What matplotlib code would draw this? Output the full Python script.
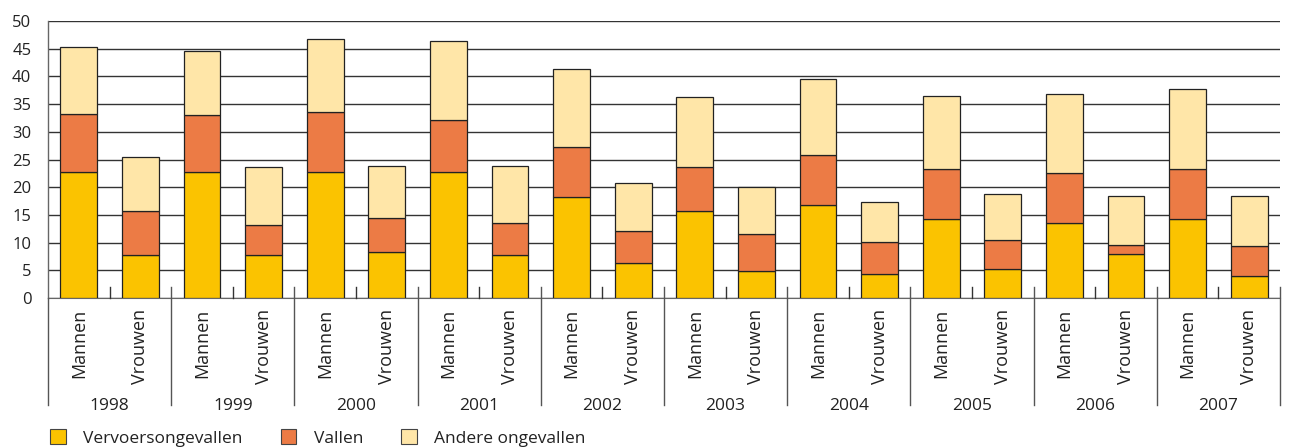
import matplotlib
matplotlib.use("Agg")
import matplotlib.pyplot as plt
import matplotlib.transforms as mtransforms
from matplotlib.patches import Patch
import numpy as np

years = ["1998", "1999", "2000", "2001", "2002", "2003", "2004", "2005", "2006", "2007"]
genders = ["Mannen", "Vrouwen"]
series_names = ["Vervoersongevallen", "Vallen", "Andere ongevallen"]

# values per bar: 1998 M, 1998 V, 1999 M, ...
vervoer = [22.8, 7.8, 22.8, 7.8, 22.8, 8.3, 22.8, 7.8, 18.3, 6.3,
           15.7, 4.8, 16.7, 4.3, 14.3, 5.3, 13.6, 7.9, 14.3, 3.9]
vallen = [10.5, 7.9, 10.2, 5.4, 10.8, 6.2, 9.3, 5.7, 8.9, 5.8,
          7.9, 6.8, 9.2, 5.8, 8.9, 5.1, 9.0, 1.6, 8.9, 5.5]
andere = [12.0, 9.7, 11.5, 10.4, 13.2, 9.4, 14.3, 10.3, 14.1, 8.6,
          12.6, 8.4, 13.7, 7.2, 13.2, 8.3, 14.2, 8.9, 14.5, 9.0]

colors = ["#FBC300", "#EC7B45", "#FFE6A8"]

plt.rcParams['font.family'] = ['Open Sans', 'DejaVu Sans']

fig = plt.figure(figsize=(12.89, 4.48), dpi=100)
ax = fig.add_axes([48/1289, 1-298/448, (1280-48)/1289, (298-21)/448])

n = len(vervoer)
x = np.arange(n)
w = 0.6
v = np.array(vervoer)
va_ = np.array(vallen)
an = np.array(andere)
ax.bar(x, v, w, color=colors[0], edgecolor="#222222", linewidth=0.9, zorder=3)
ax.bar(x, va_, w, bottom=v, color=colors[1], edgecolor="#222222", linewidth=0.9, zorder=3)
ax.bar(x, an, w, bottom=v+va_, color=colors[2], edgecolor="#222222", linewidth=0.9, zorder=3)

ax.set_xlim(-0.5, n-0.5)
ax.set_ylim(0, 50)
ax.set_yticks(np.arange(0, 51, 5))
ax.yaxis.grid(True, color="#333333", linewidth=1.0, zorder=0)
ax.set_axisbelow(True)
ax.tick_params(axis='y', length=0, pad=12, labelsize=12, colors="#222222")
ax.set_xticks([])
for s in ["top", "right"]:
    ax.spines[s].set_visible(False)
ax.spines["left"].set_color("#666666")
ax.spines["bottom"].set_color("#666666")
ax.spines["left"].set_linewidth(1.0)

trans = mtransforms.blended_transform_factory(ax.transData, ax.transAxes)
top_off = 11/277
low = -(405-298)/277
# separators
for i in range(n+1):
    xb = i - 0.5
    if i % 2 == 0:
        ax.plot([xb, xb], [top_off if i > 0 else 0, low], transform=trans,
                color="#555555", linewidth=1.0, clip_on=False, zorder=4)
    else:
        ax.plot([xb, xb], [0, top_off], transform=trans,
                color="#333333", linewidth=1.0, clip_on=False, zorder=4)

for i in range(n):
    ax.text(x[i], -11/277, genders[i % 2], rotation=90, ha='center', va='top',
            transform=trans, fontsize=13, color="#222222")
for j, yr in enumerate(years):
    ax.text(2*j + 0.5, -(406-298)/277, yr, ha='center', va='center',
            transform=trans, fontsize=12.5, color="#222222")

handles = [Patch(facecolor=c, edgecolor="#444444", linewidth=0.8) for c in colors]
fig.legend(handles, series_names, loc='center left', bbox_to_anchor=(50/1289, 1-438/448),
           ncol=3, frameon=False, fontsize=12.5, handlelength=0.9, handleheight=0.9,
           columnspacing=2.2, handletextpad=1.0, labelcolor="#222222",
           borderpad=0, borderaxespad=0)

fig.savefig("out.png", dpi=100)
